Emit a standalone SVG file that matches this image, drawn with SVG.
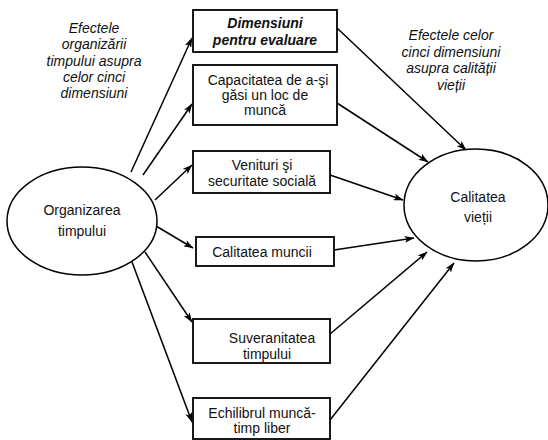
<svg xmlns="http://www.w3.org/2000/svg" width="548" height="440" viewBox="0 0 548 440">
  <style>
    .bg { fill: #ffffff; }
    .box { fill: #ffffff; stroke: #000000; stroke-width: 1.8; }
    .ell { fill: #ffffff; stroke: #000000; stroke-width: 1.5; }
    .t { font-family: "Liberation Sans", Arial, sans-serif; font-size: 14px; fill: #111111; text-anchor: middle; }
    .it { font-style: italic; }
    .bi { font-style: italic; font-weight: bold; }
    .edge { stroke: #000000; stroke-width: 1.5; fill: none; marker-end: url(#arrow); }
  </style>
  <defs>
    <marker id="arrow" viewBox="0 0 10 7" refX="9.5" refY="3.5" markerWidth="10" markerHeight="7" markerUnits="userSpaceOnUse" orient="auto">
      <path d="M0,0 L10,3.5 L0,7 L2.5,3.5 Z" fill="#000000"/>
    </marker>
  </defs>

  <rect class="bg" x="0" y="0" width="548" height="440"/>

  <!-- explanatory captions -->
  <g id="caption-left">
    <text class="t it" x="94" y="33">Efectele</text>
    <text class="t it" x="94" y="49">organizării</text>
    <text class="t it" x="94" y="66">timpului asupra</text>
    <text class="t it" x="94" y="82">celor cinci</text>
    <text class="t it" x="94" y="98">dimensiuni</text>
  </g>
  <g id="caption-right">
    <text class="t it" x="451" y="40">Efectele celor</text>
    <text class="t it" x="451" y="57">cinci dimensiuni</text>
    <text class="t it" x="451" y="73">asupra calității</text>
    <text class="t it" x="451" y="90">vieții</text>
  </g>

  <!-- connectors -->
  <g id="connectors">
    <path class="edge" d="M131,172 L192,38"/>
    <path class="edge" d="M143,175 L192,104"/>
    <path class="edge" d="M155,200 L192,165"/>
    <path class="edge" d="M156,226 L193,248"/>
    <path class="edge" d="M145,252 L192,322"/>
    <path class="edge" d="M132,262 L192,422"/>

    <path class="edge" d="M337,28 L466,150"/>
    <path class="edge" d="M337,103 L428,162"/>
    <path class="edge" d="M330,175 L403,200"/>
    <path class="edge" d="M334,250 L414,238"/>
    <path class="edge" d="M330,334 L427,252"/>
    <path class="edge" d="M330,420 L454,263"/>
  </g>

  <!-- nodes -->
  <g id="organizarea">
    <ellipse class="ell" cx="82" cy="221" rx="75" ry="54"/>
    <text class="t" x="82" y="215">Organizarea</text>
    <text class="t" x="82" y="236">timpului</text>
  </g>

  <g id="calitatea-vietii">
    <ellipse class="ell" cx="476" cy="205" rx="72" ry="56"/>
    <text class="t" x="478" y="202">Calitatea</text>
    <text class="t" x="478" y="222">vieții</text>
  </g>

  <g id="dimensiuni">
    <rect class="box" x="193" y="10" width="144" height="42"/>
    <text class="t bi" x="265" y="28">Dimensiuni</text>
    <text class="t bi" x="265" y="45">pentru evaluare</text>
  </g>

  <g id="capacitatea">
    <rect class="box" x="193" y="65" width="144" height="60"/>
    <text class="t" x="268" y="85">Capacitatea de a-şi</text>
    <text class="t" x="265" y="100">găsi un loc de</text>
    <text class="t" x="265" y="115">muncă</text>
  </g>

  <g id="venituri">
    <rect class="box" x="193" y="151" width="137" height="42"/>
    <text class="t" x="262" y="170">Venituri şi</text>
    <text class="t" x="262" y="186">securitate socială</text>
  </g>

  <g id="calitatea-muncii">
    <rect class="box" x="196" y="237" width="138" height="29"/>
    <text class="t" x="262" y="257">Calitatea muncii</text>
  </g>

  <g id="suveranitatea">
    <rect class="box" x="193" y="319" width="137" height="44"/>
    <text class="t" x="272" y="343">Suveranitatea</text>
    <text class="t" x="267" y="359">timpului</text>
  </g>

  <g id="echilibrul">
    <rect class="box" x="193" y="398" width="137" height="41"/>
    <text class="t" x="262" y="418">Echilibrul muncă-</text>
    <text class="t" x="262" y="433">timp liber</text>
  </g>
</svg>
